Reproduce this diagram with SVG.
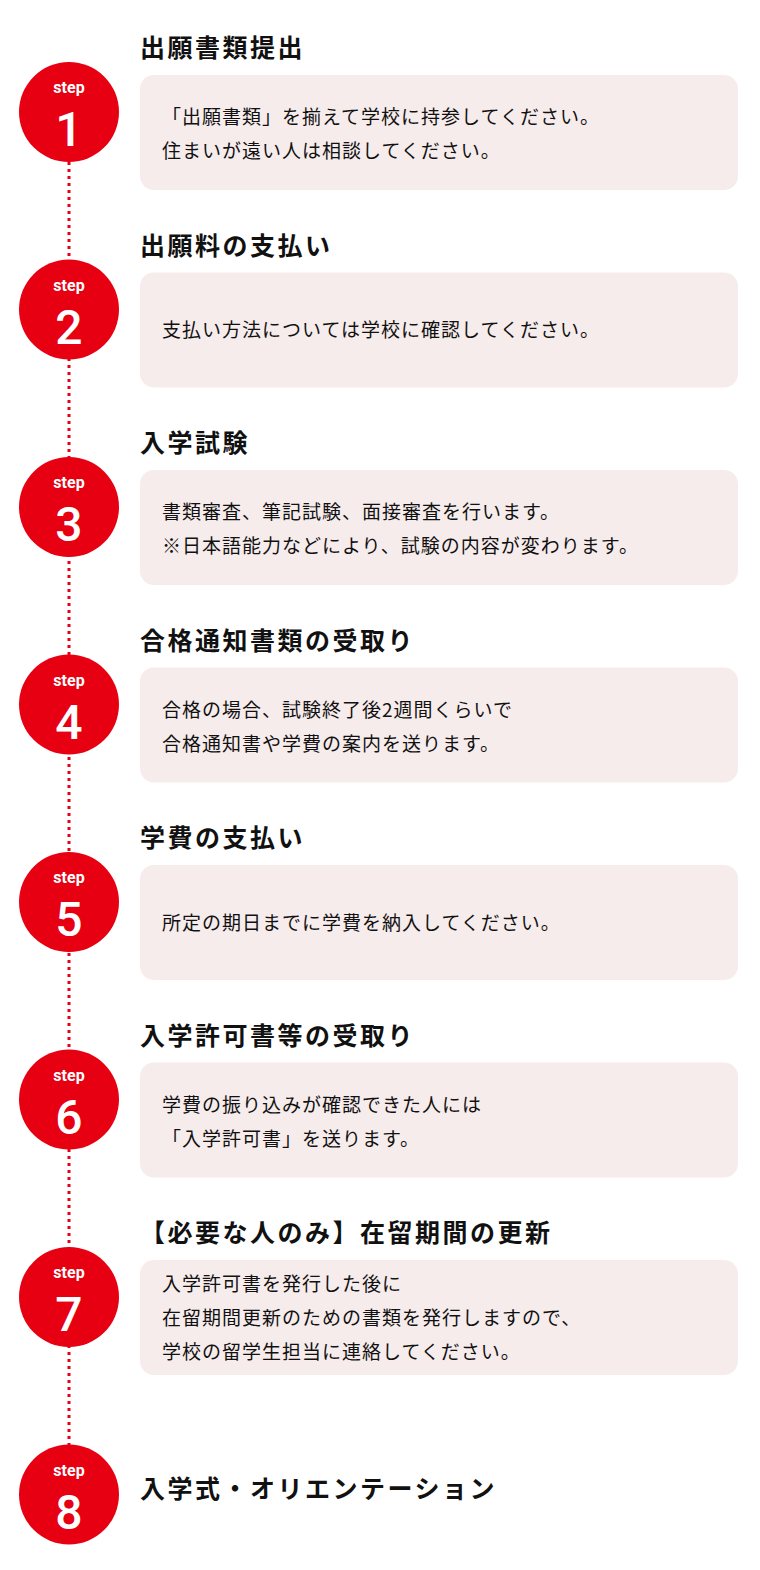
<svg xmlns="http://www.w3.org/2000/svg" width="760" height="1570" viewBox="0 0 760 1570">
<style>
.c{fill:#e60012}
.s{fill:#fff;font-family:Roboto,"Liberation Sans",sans-serif;font-size:16px;font-weight:700;text-anchor:middle}
.n{fill:#fff;font-family:Roboto,"Liberation Sans",sans-serif;font-size:48px;font-weight:500;text-anchor:middle}
.b{fill:#f7ecec}
.t{fill:#111;font-family:"Noto Sans CJK JP",sans-serif;font-size:25px;font-weight:700;letter-spacing:2.5px}
.p{fill:#111;font-family:"Noto Sans CJK JP",sans-serif;font-size:19px;letter-spacing:1px}
</style>
<g id="connectors"><line x1="69" y1="162" x2="69" y2="1445" stroke="#e60012" stroke-width="3" stroke-dasharray="3 4"/></g>
<g id="step1"><circle class="c" cx="69" cy="112" r="50"/><text class="s" x="69" y="93">step</text><text class="n" x="69" y="146">1</text><text class="t" x="140" y="57">出願書類提出</text><rect class="b" x="140" y="75" width="598" height="115" rx="14"/><text class="p" x="162" y="124">「出願書類」を揃えて学校に持参してください。</text><text class="p" x="162" y="158">住まいが遠い人は相談してください。</text></g>
<g id="step2"><circle class="c" cx="69" cy="309.5" r="50"/><text class="s" x="69" y="290.5">step</text><text class="n" x="69" y="343.5">2</text><text class="t" x="140" y="254.5">出願料の支払い</text><rect class="b" x="140" y="272.5" width="598" height="115" rx="14"/><text class="p" x="162" y="337">支払い方法については学校に確認してください。</text></g>
<g id="step3"><circle class="c" cx="69" cy="507" r="50"/><text class="s" x="69" y="488">step</text><text class="n" x="69" y="541">3</text><text class="t" x="140" y="452">入学試験</text><rect class="b" x="140" y="470" width="598" height="115" rx="14"/><text class="p" x="162" y="519">書類審査、筆記試験、面接審査を行います。</text><text class="p" x="162" y="553">※日本語能力などにより、試験の内容が変わります。</text></g>
<g id="step4"><circle class="c" cx="69" cy="704.5" r="50"/><text class="s" x="69" y="685.5">step</text><text class="n" x="69" y="738.5">4</text><text class="t" x="140" y="649.5">合格通知書類の受取り</text><rect class="b" x="140" y="667.5" width="598" height="115" rx="14"/><text class="p" x="162" y="716.5">合格の場合、試験終了後2週間くらいで</text><text class="p" x="162" y="750.5">合格通知書や学費の案内を送ります。</text></g>
<g id="step5"><circle class="c" cx="69" cy="902" r="50"/><text class="s" x="69" y="883">step</text><text class="n" x="69" y="936">5</text><text class="t" x="140" y="847">学費の支払い</text><rect class="b" x="140" y="865" width="598" height="115" rx="14"/><text class="p" x="162" y="929.5">所定の期日までに学費を納入してください。</text></g>
<g id="step6"><circle class="c" cx="69" cy="1099.5" r="50"/><text class="s" x="69" y="1080.5">step</text><text class="n" x="69" y="1133.5">6</text><text class="t" x="140" y="1044.5">入学許可書等の受取り</text><rect class="b" x="140" y="1062.5" width="598" height="115" rx="14"/><text class="p" x="162" y="1111.5">学費の振り込みが確認できた人には</text><text class="p" x="162" y="1145.5">「入学許可書」を送ります。</text></g>
<g id="step7"><circle class="c" cx="69" cy="1297" r="50"/><text class="s" x="69" y="1278">step</text><text class="n" x="69" y="1331">7</text><text class="t" x="140" y="1242">【必要な人のみ】在留期間の更新</text><rect class="b" x="140" y="1260" width="598" height="115" rx="14"/><text class="p" x="162" y="1291">入学許可書を発行した後に</text><text class="p" x="162" y="1325">在留期間更新のための書類を発行しますので、</text><text class="p" x="162" y="1359">学校の留学生担当に連絡してください。</text></g>
<g id="step8"><circle class="c" cx="69" cy="1494.5" r="50"/><text class="s" x="69" y="1475.5">step</text><text class="n" x="69" y="1528.5">8</text><text class="t" x="140" y="1498">入学式・オリエンテーション</text></g>
</svg>
